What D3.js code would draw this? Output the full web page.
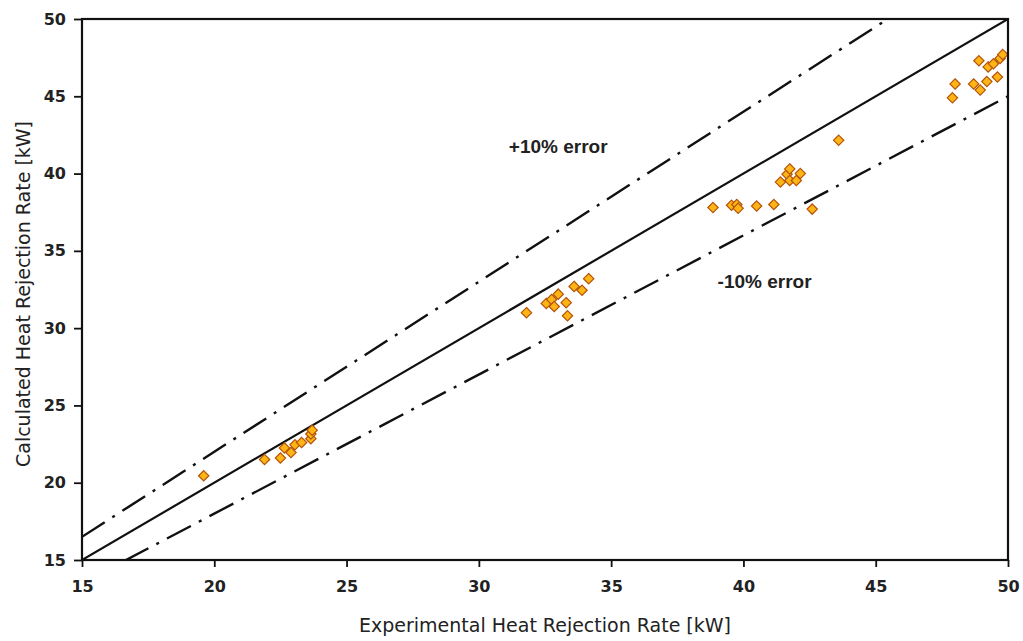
<!DOCTYPE html>
<html>
<head>
<meta charset="utf-8">
<script src="https://cdn.jsdelivr.net/npm/d3@7"></script>
<style>
body { margin: 0; background: #fff; }
svg text { font-family: "DejaVu Sans", sans-serif; fill: #222; }
</style>
</head>
<body>
<script>
// measured (experimental) vs calculated heat rejection, kW
var expVals = [19.6, 21.9, 22.5, 22.65, 22.9, 23.05, 23.3, 23.65, 23.65, 23.7,
	31.8, 32.55, 32.75, 32.85, 33.0, 33.3, 33.35, 33.6, 33.9, 34.15,
	38.85, 39.55, 39.75, 39.8, 40.5, 41.15, 41.4, 41.65, 41.75, 41.75, 42.0, 42.15, 42.6, 43.6,
	47.9, 48.0, 48.7, 48.9, 48.95, 49.2, 49.25, 49.45, 49.6, 49.7, 49.8];
var calcVals = [20.45, 21.5, 21.6, 22.25, 21.95, 22.45, 22.6, 22.85, 23.15, 23.4,
	31.0, 31.6, 31.85, 31.4, 32.2, 31.65, 30.8, 32.7, 32.45, 33.2,
	37.8, 37.95, 38.0, 37.75, 37.9, 38.0, 39.45, 39.95, 40.3, 39.55, 39.55, 40.0, 37.7, 42.15,
	44.9, 45.8, 45.8, 47.3, 45.4, 45.95, 46.9, 47.1, 46.25, 47.45, 47.7];

var xTicks = [15, 20, 25, 30, 35, 40, 45, 50];
var yTicks = [15, 20, 25, 30, 35, 40, 45, 50];
var errBands = [1.1, 1.0, 0.9];   // +10%, perfect, -10%

var width = 1023, height = 641;
var margin = {top: 19, right: 15, bottom: 81, left: 82};
var w = width - margin.left - margin.right,
	h = height - margin.top - margin.bottom;

var svg = d3.select("body").append("svg")
	.attr("width", width)
	.attr("height", height);

var g = svg.append("g")
	.attr("transform", "translate(" + margin.left + "," + margin.top + ")");

var x = d3.scaleLinear().domain([15, 50]).range([0, w]);
var y = d3.scaleLinear().domain([15, 50]).range([h, 0]);

g.append("defs").append("clipPath").attr("id", "clip")
	.append("rect").attr("width", w).attr("height", h);

// reference lines
var lineGen = d3.line().x(d => x(d[0])).y(d => y(d[1]));
errBands.forEach(function(k){
	var pts = [[15, 15*k], [50, 50*k]];
	g.append("path")
		.attr("d", lineGen(pts))
		.attr("clip-path", "url(#clip)")
		.attr("fill", "none")
		.attr("stroke", "#111")
		.attr("stroke-width", k == 1 ? 2.2 : 2.4)
		.attr("stroke-dasharray", k == 1 ? null : "27,9,3,9");
});

// points
var data = expVals.map((v, i) => ({e: v, c: calcVals[i]}));
g.selectAll("path.pt")
	.data(data)
	.enter()
	.append("path")
	.attr("class", "pt")
	.attr("d", d3.symbol().type(d3.symbolDiamond2).size(68))
	.attr("transform", d => "translate(" + x(d.e) + "," + y(d.c) + ")")
	.attr("fill", "#FDB515")
	.attr("stroke", "#B5530A")
	.attr("stroke-width", 1.2);

// frame
g.append("rect")
	.attr("width", w).attr("height", h)
	.attr("fill", "none")
	.attr("stroke", "#111")
	.attr("stroke-width", 2.2);

// axes
var xAxis = d3.axisBottom(x).tickValues(xTicks).tickSize(7).tickPadding(14);
var xg = g.append("g")
	.attr("transform", "translate(0," + h + ")")
	.call(xAxis);
var yAxis = d3.axisLeft(y).tickValues(yTicks).tickSize(8).tickPadding(8);
var yg = g.append("g").call(yAxis);

[xg, yg].forEach(function(a){
	a.select(".domain").remove();
	a.selectAll(".tick line").attr("stroke", "#111").attr("stroke-width", 1.8);
	a.selectAll(".tick text").style("font-size", "16px").style("font-weight", "bold").attr("fill", "#222");
});

// titles
svg.append("text")
	.text("Experimental Heat Rejection Rate [kW]")
	.attr("x", 545)
	.attr("y", 632)
	.attr("text-anchor", "middle")
	.style("font-size", "19px");

svg.append("text")
	.text("Calculated Heat Rejection Rate [kW]")
	.attr("transform", "translate(30,294)rotate(-90)")
	.attr("text-anchor", "middle")
	.style("font-size", "19px");

// annotations
g.append("text").text("+10% error")
	.attr("x", x(33.0)).attr("y", y(41.3))
	.attr("text-anchor", "middle")
	.style("font-family", "'Liberation Sans', Arial, sans-serif")
	.style("font-weight", "bold")
	.style("font-size", "19px");
g.append("text").text("-10% error")
	.attr("x", x(40.8)).attr("y", y(32.6))
	.attr("text-anchor", "middle")
	.style("font-family", "'Liberation Sans', Arial, sans-serif")
	.style("font-weight", "bold")
	.style("font-size", "19px");
</script>
</body>
</html>
